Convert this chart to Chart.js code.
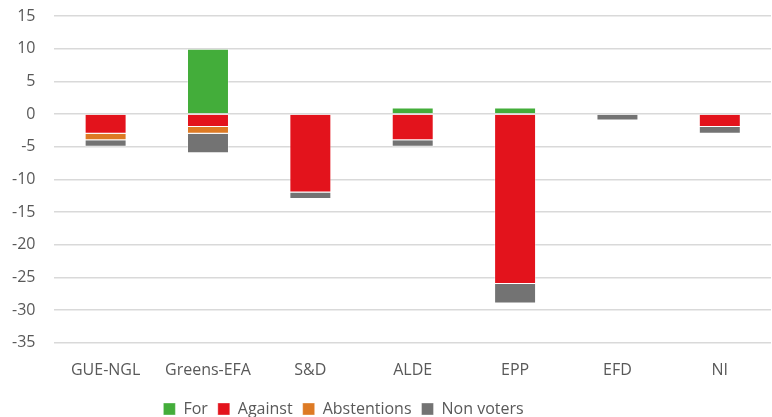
<!DOCTYPE html>
<html>
<head>
<meta charset="utf-8">
<script src="https://cdn.jsdelivr.net/npm/chart.js@4"></script>
<style>
    html, body { margin: 0; padding: 0; background: #fff; }
    #wrap { width: 772px; height: 417px; }
</style>
</head>
<body>
<div id="wrap"><canvas id="voteChart" width="772" height="417"></canvas></div>
<script>
// groupes politiques
const groups = ['GUE-NGL', 'Greens-EFA', 'S&D', 'ALDE', 'EPP', 'EFD', 'NI'];

// votes par groupe
const forVotes = [0, 10, 0, 1, 1, 0, 0];
const againstVotes = [-3, -2, -12, -4, -26, 0, -2];
const abstentions = [-1, -1, 0, 0, 0, 0, 0];
const nonVoters = [-1, -3, -1, -1, -3, -1, -1];

const yTicks = { min: -35, max: 15, step: 5 };

const textColor = '#595959';
const fontFamily = "'Open Sans', 'Liberation Sans', sans-serif";

function makeSet(label, data, color) {
    return {
        label: label,
        data: data,
        backgroundColor: color,
        borderColor: 'rgba(255,255,255,0.35)',
        borderWidth: 1,
        barPercentage: 0.41,
        categoryPercentage: 1.0
    };
}

// decale la legende un peu a gauche (comme dans Excel)
const legendShift = {
    id: 'legendShift',
    afterLayout(chart) {
        const lg = chart.legend;
        if (lg) {
            lg.left -= 48;
            lg.right -= 48;
        }
    }
};

new Chart(document.getElementById('voteChart'), {
    type: 'bar',
    data: {
        labels: groups,
        datasets: [
            makeSet('For', forVotes, '#43ad3a'),
            makeSet('Against', againstVotes, '#e3131c'),
            makeSet('Abstentions', abstentions, '#dd7a24'),
            makeSet('Non voters', nonVoters, '#737373')
        ]
    },
    plugins: [legendShift],
    options: {
        responsive: false,
        animation: false,
        layout: { padding: { top: 16, right: 1, left: 12, bottom: -10 } },
        plugins: {
            tooltip: { enabled: false },
            legend: {
                position: 'bottom',
                labels: {
                    color: textColor,
                    font: { family: fontFamily, size: 16 },
                    boxWidth: 12,
                    boxHeight: 12,
                    padding: 10
                }
            }
        },
        scales: {
            x: {
                stacked: true,
                grid: { display: false },
                border: { display: false },
                ticks: {
                    color: textColor,
                    font: { family: fontFamily, size: 16 },
                    padding: 10
                },
                afterFit(scale) {
                    scale.height += 1;
                }
            },
            y: {
                stacked: true,
                min: yTicks.min,
                max: yTicks.max,
                grid: { color: '#d9d9d9', lineWidth: 1.5, drawTicks: true, tickLength: 19, tickColor: 'rgba(0,0,0,0)' },
                border: { display: false },
                ticks: {
                    stepSize: yTicks.step,
                    color: textColor,
                    font: { family: fontFamily, size: 16 },
                    padding: 0
                }
            }
        }
    }
});
</script>
</body>
</html>
